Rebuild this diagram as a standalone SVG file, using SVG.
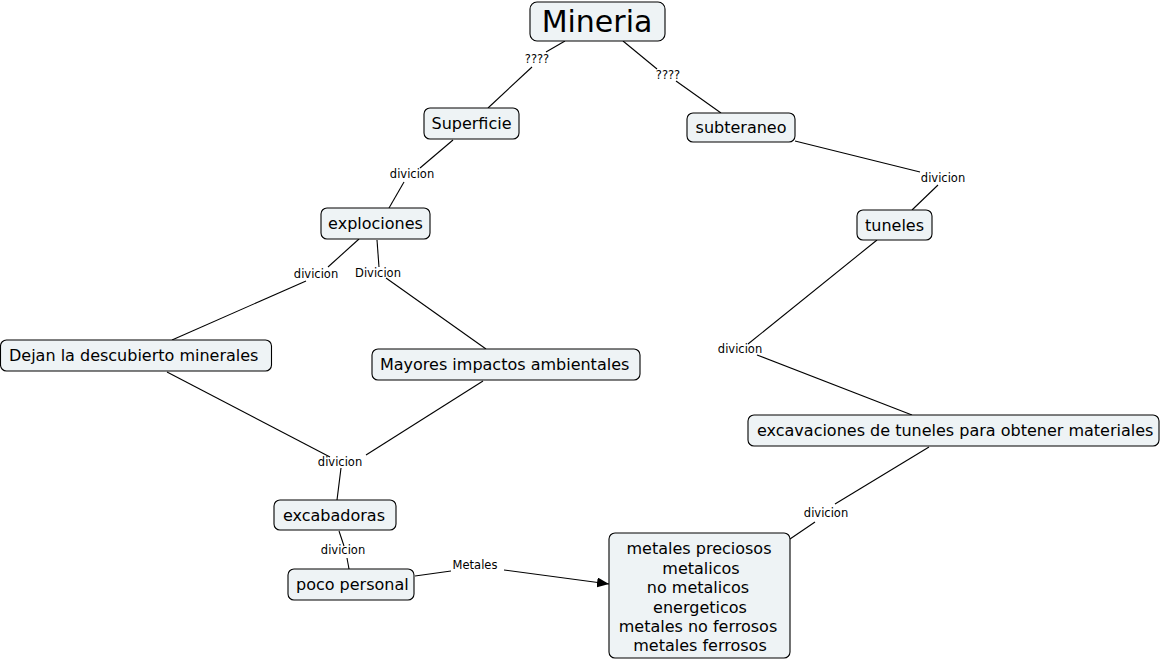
<svg xmlns="http://www.w3.org/2000/svg" width="1162" height="661" viewBox="0 0 1162 661">
<style>
.node rect{fill:#eef3f5;stroke:#000;stroke-width:1.1}
.node text{font-family:"DejaVu Sans",Verdana,sans-serif;font-size:16px;fill:#000}
.lbl{font-family:"DejaVu Sans",Verdana,sans-serif;font-size:11.5px;fill:#000;text-anchor:middle}
#connectors line{stroke:#000;stroke-width:1.1}
</style>
<defs>
<marker id="arr" viewBox="0 0 12 10" refX="12" refY="5" markerWidth="12" markerHeight="10" markerUnits="userSpaceOnUse" orient="auto">
<path d="M0,0 L12,5 L0,10 z" fill="#000"/>
</marker>
</defs>
<rect width="1162" height="661" fill="#fff"/>
<g id="connectors">
<line x1="565" y1="41" x2="546" y2="52"/>
<line x1="532" y1="67" x2="488" y2="108"/>
<line x1="623" y1="41" x2="657" y2="69"/>
<line x1="676" y1="81" x2="721" y2="113"/>
<line x1="453" y1="140" x2="420" y2="168"/>
<line x1="404" y1="182" x2="389" y2="208"/>
<line x1="359" y1="239" x2="328" y2="267"/>
<line x1="306" y1="281" x2="172" y2="340"/>
<line x1="377" y1="240" x2="379" y2="267"/>
<line x1="386" y1="278" x2="486" y2="349"/>
<line x1="167" y1="372" x2="330" y2="457"/>
<line x1="483" y1="381" x2="366" y2="455"/>
<line x1="341" y1="468" x2="337" y2="500"/>
<line x1="339" y1="531" x2="344" y2="546"/>
<line x1="347" y1="558" x2="349" y2="569"/>
<line x1="415" y1="576" x2="451" y2="571"/>
<line x1="504" y1="570" x2="609" y2="584" marker-end="url(#arr)"/>
<line x1="795" y1="141" x2="920" y2="172"/>
<line x1="938" y1="185" x2="912" y2="210"/>
<line x1="877" y1="240" x2="748" y2="344"/>
<line x1="757" y1="355" x2="912" y2="415"/>
<line x1="929" y1="447" x2="835" y2="504"/>
<line x1="815" y1="522" x2="790" y2="539"/>
<text class="lbl" x="537" y="63">????</text>
<text class="lbl" x="668" y="79">????</text>
<text class="lbl" x="412" y="178">divicion</text>
<text class="lbl" x="316" y="278">divicion</text>
<text class="lbl" x="378" y="277">Divicion</text>
<text class="lbl" x="340" y="466">divicion</text>
<text class="lbl" x="343" y="554">divicion</text>
<text class="lbl" x="475" y="569">Metales</text>
<text class="lbl" x="943" y="182">divicion</text>
<text class="lbl" x="740" y="353">divicion</text>
<text class="lbl" x="826" y="517">divicion</text>
</g>
<g id="n-mineria" class="node"><rect x="530" y="2" width="135" height="39" rx="7"/><text x="597" y="32" text-anchor="middle" style="font-size:30px">Mineria</text></g>
<g id="n-superficie" class="node"><rect x="424" y="108" width="95" height="31" rx="6"/><text x="471.5" y="129" text-anchor="middle">Superficie</text></g>
<g id="n-subteraneo" class="node"><rect x="687" y="113" width="108" height="29" rx="6"/><text x="741" y="133" text-anchor="middle">subteraneo</text></g>
<g id="n-explociones" class="node"><rect x="321" y="208" width="109" height="31" rx="6"/><text x="375.5" y="229" text-anchor="middle">explociones</text></g>
<g id="n-tuneles" class="node"><rect x="857" y="210" width="75" height="30" rx="6"/><text x="894.5" y="231" text-anchor="middle">tuneles</text></g>
<g id="n-dejan" class="node"><rect x="0.5" y="340" width="271" height="31" rx="6"/><text x="9" y="361">Dejan la descubierto minerales</text></g>
<g id="n-mayores" class="node"><rect x="372" y="349" width="268" height="31" rx="6"/><text x="380" y="370">Mayores impactos ambientales</text></g>
<g id="n-excavaciones" class="node"><rect x="748" y="415" width="411" height="31" rx="6"/><text x="757" y="436">excavaciones de tuneles para obtener materiales</text></g>
<g id="n-excabadoras" class="node"><rect x="274" y="500" width="122" height="30" rx="6"/><text x="283" y="521">excabadoras</text></g>
<g id="n-poco" class="node"><rect x="288" y="569" width="126" height="31" rx="6"/><text x="296" y="590">poco personal</text></g>
<g id="n-metales" class="node"><rect x="609" y="533" width="181" height="125" rx="6"/>
<text text-anchor="middle"><tspan x="699" y="554">metales preciosos</tspan><tspan x="701" y="573.5">metalicos</tspan><tspan x="698" y="593">no metalicos</tspan><tspan x="700" y="612.5">energeticos</tspan><tspan x="698" y="632">metales no ferrosos</tspan><tspan x="700" y="651">metales ferrosos</tspan></text></g>
</svg>
